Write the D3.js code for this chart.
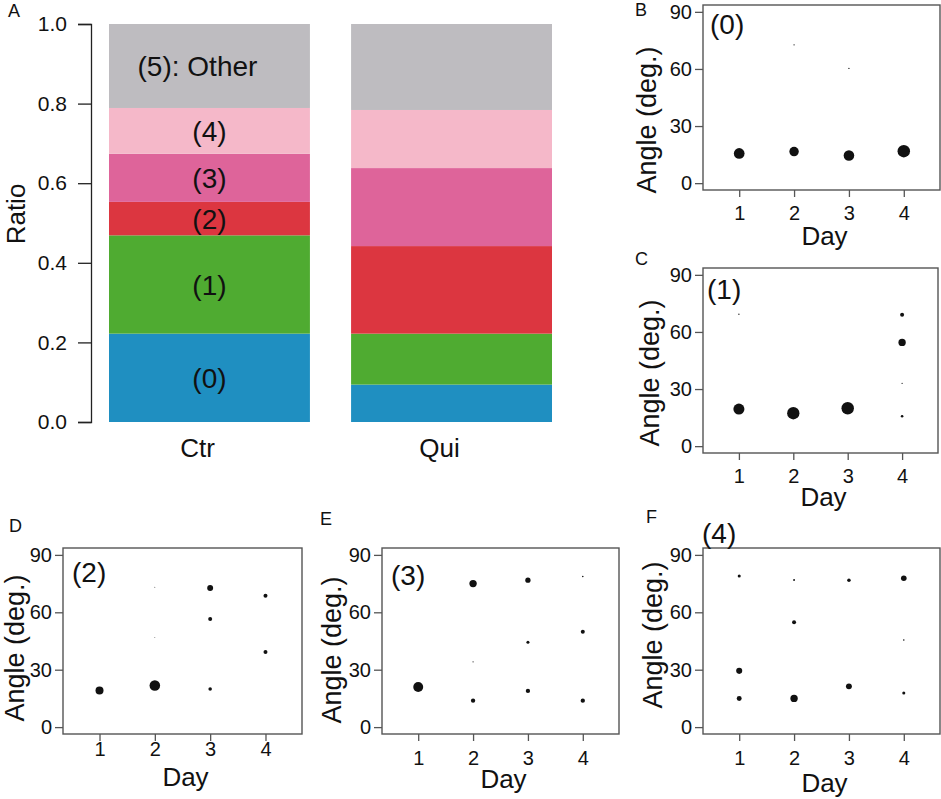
<!DOCTYPE html>
<html>
<head>
<meta charset="utf-8">
<title></title>
<script src="https://cdn.jsdelivr.net/npm/d3@7"></script>
<style>
body{margin:0;background:#fff;}
text{font-family:"Liberation Sans",Arial,Helvetica,sans-serif;fill:#111;}
</style>
</head>
<body>
<svg id="svg"></svg>
<script>
var width=941;
var height=799;

// panel A: stacked ratio of each cluster
var groups=['Ctr','Qui'];
var clusterNames=['(0)','(1)','(2)','(3)','(4)','(5): Other'];
var ctrRatio=[0.222,0.247,0.084,0.121,0.115,0.211];
var quiRatio=[0.094,0.128,0.220,0.196,0.146,0.216];
var ratioTicks=[0,0.2,0.4,0.6,0.8,1.0];
var colors=['#1f8fc1','#4fab31','#dc3640','#de649a','#f5b8c9','#bebcc0'];

// panels B-F: [day, angle, relative frequency]
var cluster0=[[1,15.6,0.67],[2,16.6,0.59],[2,72.7,0.08],[3,14.5,0.66],[3,60.3,0.08],[4,16.8,0.78]];
var cluster1=[[1,19.5,0.69],[1,69.3,0.08],[2,17.3,0.77],[3,19.9,0.78],[4,69.1,0.25],[4,54.5,0.46],[4,33.0,0.08],[4,15.7,0.16]];
var cluster2=[[1,19.1,0.5],[2,21.7,0.66],[2,73.1,0.06],[2,46.9,0.06],[3,72.7,0.37],[3,56.5,0.25],[3,19.9,0.22],[4,68.7,0.25],[4,39.3,0.25]];
var cluster3=[[1,21.0,0.62],[2,75.0,0.46],[2,34.1,0.07],[2,13.8,0.27],[3,76.8,0.33],[3,44.3,0.19],[3,18.9,0.27],[4,78.7,0.1],[4,49.8,0.25],[4,13.8,0.27]];
var cluster4=[[1,79.0,0.19],[1,29.4,0.38],[1,14.9,0.31],[2,76.9,0.12],[2,54.8,0.25],[2,15.0,0.46],[3,76.8,0.22],[3,21.3,0.37],[4,77.8,0.35],[4,45.5,0.1],[4,17.8,0.19]];
var days=[1,2,3,4];
var angleTicks=[0,30,60,90];

var svg=d3.select('#svg').attr('width',width).attr('height',height);

// ---------- panel A ----------
var yA=d3.scaleLinear().domain([0,1]).range([422,24]);
var xA=d3.scaleBand().domain(groups).range([109,552]).paddingInner(0.17).paddingOuter(0);

var stacks=[ctrRatio,quiRatio].map(function(vals,gi){
	var acc=0;
	return vals.map(function(v,i){
		var s={group:groups[gi],i:i,y0:acc,y1:acc+v};
		acc+=v;
		return s;
	});
});

var gA=svg.append('g');
gA.selectAll('g.bar')
	.data(stacks)
	.join('g')
	.selectAll('rect')
	.data(function(d){return d;})
	.join('rect')
	.attr('x',function(d){return xA(d.group);})
	.attr('width',xA.bandwidth())
	.attr('y',function(d){return yA(d.y1);})
	.attr('height',function(d){return yA(d.y0)-yA(d.y1);})
	.attr('fill',function(d){return colors[d.i];});

gA.selectAll('text.seg')
	.data(stacks[0])
	.join('text')
	.attr('class','seg')
	.attr('x',function(d){return xA(d.group)+xA.bandwidth()/2-(d.i==5?12:0);})
	.attr('y',function(d){return yA((d.y0+d.y1)/2);})
	.attr('dy','0.36em')
	.attr('text-anchor','middle')
	.style('font-size','28px')
	.text(function(d){return clusterNames[d.i];});

var axA=d3.axisLeft(yA).tickValues(ratioTicks).tickFormat(d3.format('.1f')).tickSize(13).tickPadding(11);
gA.append('g').attr('transform','translate(91,0)').call(axA)
	.call(function(g){
		g.select('.domain').attr('stroke','#222').attr('stroke-width',1.3);
		g.selectAll('.tick line').attr('stroke','#222').attr('stroke-width',1.3);
		g.selectAll('.tick text').style('font-size','21px').attr('fill','#111').attr('font-family',null);
	});

gA.selectAll('text.grp')
	.data(groups)
	.join('text')
	.attr('class','grp')
	.attr('x',function(d){return xA(d)+xA.bandwidth()/2-12;})
	.attr('y',457)
	.attr('text-anchor','middle')
	.style('font-size','26px')
	.text(function(d){return d;});

gA.append('text').attr('transform','translate(25,214) rotate(-90)')
	.attr('text-anchor','middle').style('font-size','26px').text('Ratio');
gA.append('text').attr('x',8).attr('y',17).style('font-size','18px').text('A');

// ---------- panels B-F ----------
var panels=[
	{letter:'B',name:'(0)',data:cluster0,box:[703,940,5,190],lx:635,ly:16,nx:710,ny:34,yl:[656,120],tk:30,dl:55},
	{letter:'C',name:'(1)',data:cluster1,box:[703,938,268,453],lx:635,ly:265,nx:707,ny:299,yl:[659,373],tk:30,dl:53},
	{letter:'D',name:'(2)',data:cluster2,box:[63,302,548,734],lx:9,ly:532,nx:72,ny:582,yl:[24,648],tk:22,dl:52},
	{letter:'E',name:'(3)',data:cluster3,box:[382,619,548,734],lx:320,ly:525,nx:391,ny:585,yl:[341,650],tk:31,dl:54},
	{letter:'F',name:'(4)',data:cluster4,box:[703,940,548,734],lx:646,ly:523,nx:702,ny:543,yl:[662,635],tk:31,dl:58}
];

var rScale=d3.scaleLinear().domain([0,1]).range([0,8]);

panels.forEach(function(p){
	var b=p.box;
	var x=d3.scaleLinear().domain([0.34,4.66]).range([b[0],b[1]]);
	var y=d3.scaleLinear().domain([-3.6,93.6]).range([b[3],b[2]]);
	var g=svg.append('g');

	g.append('rect').attr('x',b[0]).attr('y',b[2])
		.attr('width',b[1]-b[0]).attr('height',b[3]-b[2])
		.attr('fill','none').attr('stroke','#555').attr('stroke-width',1.4);

	g.append('g').attr('transform','translate('+b[0]+',0)')
		.call(d3.axisLeft(y).tickValues(angleTicks).tickSize(8).tickPadding(3))
		.call(function(a){
			a.select('.domain').remove();
			a.selectAll('.tick line').attr('stroke','#555').attr('stroke-width',1.3);
			a.selectAll('.tick text').style('font-size','20px').attr('fill','#111').attr('font-family',null);
		});

	g.append('g').attr('transform','translate(0,'+b[3]+')')
		.call(d3.axisBottom(x).tickValues(days).tickSize(7).tickFormat(d3.format('d')))
		.call(function(a){
			a.select('.domain').remove();
			a.selectAll('.tick line').attr('stroke','#555').attr('stroke-width',1.3);
			a.selectAll('.tick text').attr('dy',null).attr('y',p.tk)
				.style('font-size','20px').attr('fill','#111').attr('font-family',null);
		});

	g.selectAll('circle')
		.data(p.data)
		.join('circle')
		.attr('cx',function(d){return x(d[0]);})
		.attr('cy',function(d){return y(d[1]);})
		.attr('r',function(d){return rScale(d[2]);})
		.attr('fill','#111');

	g.append('text').attr('x',(x(1)+x(4))/2+3).attr('y',b[3]+p.dl)
		.attr('text-anchor','middle').style('font-size','26px').text('Day');
	g.append('text').attr('transform','translate('+p.yl[0]+','+p.yl[1]+') rotate(-90)')
		.attr('text-anchor','middle').style('font-size','27px').text('Angle (deg.)');
	g.append('text').attr('x',p.nx).attr('y',p.ny).style('font-size','28px').text(p.name);
	g.append('text').attr('x',p.lx).attr('y',p.ly).style('font-size','18px').text(p.letter);
});
</script>
</body>
</html>
